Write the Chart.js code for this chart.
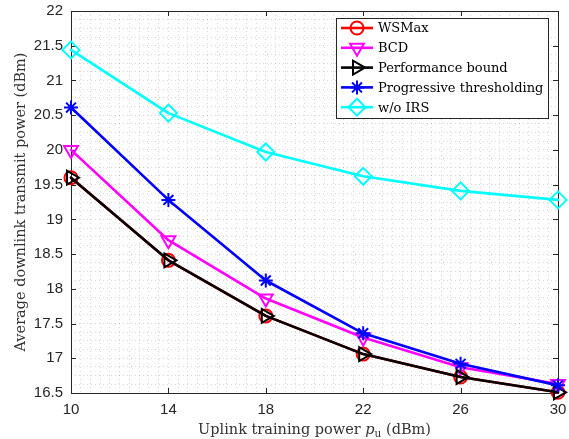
<!DOCTYPE html>
<html>
<head>
<meta charset="utf-8">
<script src="https://cdn.jsdelivr.net/npm/chart.js@4/dist/chart.umd.min.js"></script>
<style>
html,body{margin:0;padding:0;background:#fff;}
#wrap{width:569px;height:439px;position:relative;}
</style>
</head>
<body>
<div id="wrap"><canvas id="c" width="569" height="439"></canvas></div>
<script>
// ---- data ----
const xValues = [10, 14, 18, 22, 26, 30];
const wsmax = [19.60, 18.41, 17.61, 17.06, 16.73, 16.51];
const bcd = [20.00, 18.70, 17.86, 17.30, 16.87, 16.63];
const perfBound = [19.60, 18.41, 17.61, 17.06, 16.73, 16.51];
const progressive = [20.61, 19.28, 18.12, 17.36, 16.92, 16.61];
const woIRS = [21.44, 20.53, 19.97, 19.62, 19.41, 19.28];
const seriesNames = ['WSMax', 'BCD', 'Performance bound', 'Progressive thresholding', 'w/o IRS'];
const xMajorTicks = [10, 14, 18, 22, 26, 30];
const yMajorTicks = [16.5, 17, 17.5, 18, 18.5, 19, 19.5, 20, 20.5, 21, 21.5, 22];
const xTitle = ['Uplink training power ', 'p', 'u', ' (dBm)'];
const yTitle = 'Average downlink transmit power (dBm)';

const pts = arr => arr.map((v, i) => ({x: xValues[i], y: v}));

const AXIS = '#262626';
const serif = '"DejaVu Serif", serif';

function mkDs(label, data, color, style, rot, radius, order) {
  return {
    label, data: pts(data), borderColor: color, backgroundColor: 'rgba(0,0,0,0)',
    borderWidth: 2.6, pointStyle: style, pointRotation: rot, pointRadius: radius,
    pointBorderWidth: 2, pointBorderColor: color, pointBackgroundColor: 'rgba(0,0,0,0)',
    pointHoverRadius: radius, tension: 0, clip: false, order
  };
}

const datasets = [
  mkDs(seriesNames[0], wsmax, '#ff0000', 'circle', 0, 6.5, 5),
  mkDs(seriesNames[1], bcd, '#ff00ff', 'triangle', 180, 8, 4),
  mkDs(seriesNames[2], perfBound, '#000000', 'triangle', 90, 8, 3),
  mkDs(seriesNames[3], progressive, '#0000ff', 'star', 0, 7, 2),
  mkDs(seriesNames[4], woIRS, '#00ffff', 'rectRot', 0, 8.5, 1)
];

function minorList(a, b, step) {
  const out = [];
  const n = Math.round((b - a) / step);
  for (let i = 0; i <= n; i++) out.push(+(a + i * step).toFixed(6));
  return out;
}

const frame = {
  id: 'frame',
  beforeDatasetsDraw(chart) {
    const {ctx, chartArea: a, scales} = chart;
    ctx.save();
    ctx.strokeStyle = AXIS;
    ctx.lineWidth = 1;
    ctx.beginPath();
    xMajorTicks.forEach(v => {
      const px = Math.round(scales.x.getPixelForValue(v)) + 0.5;
      ctx.moveTo(px, a.bottom); ctx.lineTo(px, a.bottom - 5);
      ctx.moveTo(px, a.top); ctx.lineTo(px, a.top + 5);
    });
    yMajorTicks.forEach(v => {
      const py = Math.round(scales.y.getPixelForValue(v)) + 0.5;
      ctx.moveTo(a.left, py); ctx.lineTo(a.left + 5, py);
      ctx.moveTo(a.right, py); ctx.lineTo(a.right - 5, py);
    });
    ctx.stroke();
    ctx.strokeRect(Math.round(a.left) + 0.5, Math.round(a.top) + 0.5,
      Math.round(a.right - a.left), Math.round(a.bottom - a.top));
    ctx.restore();
  },
  afterDraw(chart) {
    const {ctx, chartArea: a} = chart;
    ctx.save();
    // axis titles
    ctx.fillStyle = '#333';
    ctx.textBaseline = 'alphabetic';
    const f = '14.5px ' + serif, fi = 'italic 14.5px ' + serif, fs = '10.5px ' + serif;
    ctx.font = f; const w0 = ctx.measureText(xTitle[0]).width;
    ctx.font = fi; const w1 = ctx.measureText(xTitle[1]).width;
    ctx.font = fs; const w2 = ctx.measureText(xTitle[2]).width;
    ctx.font = f; const w3 = ctx.measureText(xTitle[3]).width;
    const tot = w0 + w1 + w2 + w3;
    let x0 = (a.left + a.right) / 2 - tot / 2;
    const yb = 434;
    ctx.textAlign = 'left';
    ctx.font = f; ctx.fillText(xTitle[0], x0, yb); x0 += w0;
    ctx.font = fi; ctx.fillText(xTitle[1], x0, yb); x0 += w1;
    ctx.font = fs; ctx.fillText(xTitle[2], x0, yb + 3); x0 += w2;
    ctx.font = f; ctx.fillText(xTitle[3], x0, yb);
    ctx.translate(25, (a.top + a.bottom) / 2);
    ctx.rotate(-Math.PI / 2);
    ctx.textAlign = 'center';
    ctx.font = f;
    ctx.fillText(yTitle, 0, 0);
    ctx.restore();

    // legend
    ctx.save();
    const bx = 336.5, by = 18.5, bw = 212, bh = 100;
    ctx.fillStyle = '#fff';
    ctx.fillRect(bx, by, bw, bh);
    ctx.strokeStyle = AXIS; ctx.lineWidth = 1;
    ctx.strokeRect(bx, by, bw, bh);
    chart.data.datasets.forEach((ds, i) => {
      const ry = 28 + i * 19.8;
      ctx.strokeStyle = ds.borderColor; ctx.lineWidth = 2.6;
      ctx.beginPath(); ctx.moveTo(341, ry); ctx.lineTo(373, ry); ctx.stroke();
      ctx.lineWidth = ds.pointBorderWidth;
      ctx.fillStyle = 'rgba(0,0,0,0)';
      Chart.helpers.drawPoint(ctx, {
        pointStyle: ds.pointStyle, rotation: ds.pointRotation, radius: ds.pointRadius,
        borderWidth: ds.pointBorderWidth
      }, 357, ry);
      ctx.fillStyle = '#000';
      ctx.font = '13px ' + serif;
      ctx.textAlign = 'left'; ctx.textBaseline = 'middle';
      ctx.fillText(ds.label, 378, ry + 1);
    });
    ctx.restore();
  }
};

new Chart(document.getElementById('c'), {
  type: 'line',
  data: {datasets},
  options: {
    responsive: false, animation: false, devicePixelRatio: 1,
    layout: {padding: {top: 11, right: 11, left: 0, bottom: 0}},
    plugins: {legend: {display: false}, tooltip: {enabled: false}},
    elements: {line: {borderCapStyle: 'round', borderJoinStyle: 'round'}},
    scales: {
      x: {
        type: 'linear', min: 10, max: 30,
        afterBuildTicks: s => { s.ticks = minorList(10, 30, 0.4).map(v => ({value: v})); },
        afterFit: s => { s.height = 46; s.paddingLeft = 0; s.paddingRight = 0; },
        ticks: {
          autoSkip: false, maxRotation: 0, padding: 8, color: AXIS,
          font: {family: '"Liberation Sans", Arial, sans-serif', size: 15},
          callback: v => (xMajorTicks.some(t => Math.abs(t - v) < 1e-6) ? String(Math.round(v)) : '')
        },
        grid: {color: 'rgba(0,0,0,0.16)', lineWidth: 1, drawTicks: false},
        border: {display: false, dash: [1, 3]}
      },
      y: {
        type: 'linear', min: 16.5, max: 22,
        afterBuildTicks: s => { s.ticks = minorList(16.5, 22, 0.125).map(v => ({value: v})); },
        afterFit: s => { s.width = 71; s.paddingTop = 0; s.paddingBottom = 0; },
        ticks: {
          autoSkip: false, padding: 8, color: AXIS,
          font: {family: '"Liberation Sans", Arial, sans-serif', size: 15},
          callback: v => (yMajorTicks.some(t => Math.abs(t - v) < 1e-6) ? String(+v.toFixed(1)) : '')
        },
        grid: {color: 'rgba(0,0,0,0.16)', lineWidth: 1, drawTicks: false},
        border: {display: false, dash: [1, 3]}
      }
    }
  },
  plugins: [frame]
});
</script>
</body>
</html>
